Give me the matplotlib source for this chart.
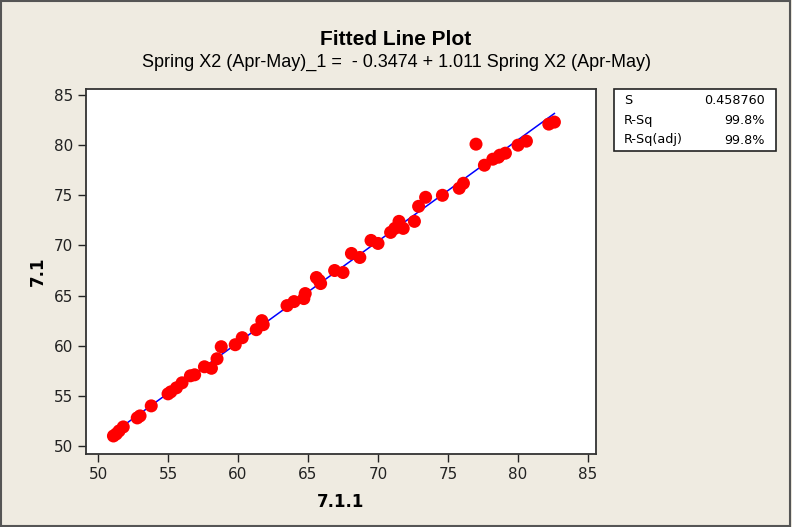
import matplotlib.pyplot as plt
from matplotlib.patches import Rectangle
import numpy as np

x_vals = [51.1, 51.3, 51.5, 51.8, 52.8, 53.0, 53.8, 55.0, 55.2, 55.6, 56.0, 56.6,
          56.9, 57.6, 58.1, 58.5, 58.8, 59.8, 60.3, 61.3, 61.7, 61.8, 63.5, 64.0,
          64.7, 64.8, 65.6, 65.8, 65.9, 66.9, 67.5, 68.1, 68.7, 69.5, 70.0, 70.9,
          71.2, 71.5, 71.8, 72.6, 72.9, 73.4, 74.6, 75.8, 76.1, 77.0, 77.6, 78.2,
          78.6, 78.7, 79.1, 80.0, 80.6, 82.2, 82.6]
y_vals = [51.0, 51.2, 51.5, 51.9, 52.8, 53.0, 54.0, 55.2, 55.4, 55.8, 56.3, 57.0,
          57.1, 57.9, 57.75, 58.7, 59.9, 60.1, 60.8, 61.6, 62.5, 62.1, 64.0, 64.4,
          64.7, 65.2, 66.8, 66.5, 66.2, 67.5, 67.3, 69.2, 68.8, 70.5, 70.2, 71.3,
          71.7, 72.4, 71.7, 72.4, 73.9, 74.8, 75.0, 75.7, 76.2, 80.1, 78.0, 78.6,
          78.8, 79.0, 79.2, 80.0, 80.4, 82.1, 82.3]

intercept = -0.3474
slope = 1.011
stat_names = ["S", "R-Sq", "R-Sq(adj)"]
stat_values = ["0.458760", "99.8%", "99.8%"]
ticks = [50, 55, 60, 65, 70, 75, 80, 85]

bg = '#efebe1'
fig = plt.figure(figsize=(7.92, 5.27), dpi=100, facecolor=bg)
ax = fig.add_axes([0.1086, 0.1385, 0.6439, 0.6926])
ax.set_facecolor('white')

xs = np.array([min(x_vals), max(x_vals)])
ax.plot(xs, intercept + slope * xs, color='blue', lw=1.1, zorder=2)
ax.scatter(x_vals, y_vals, s=88, color='#ff0000', edgecolors='none', zorder=3)

ax.set_xlim(49.14, 85.57)
ax.set_ylim(49.2, 85.6)
ax.set_xticks(ticks)
ax.set_yticks(ticks)
ax.tick_params(direction='out', length=6, width=1, labelsize=11, colors='#222222')
for sp in ax.spines.values():
    sp.set_linewidth(1.3)
    sp.set_color('#333333')

ax.set_xlabel('7.1.1', fontsize=12, fontweight='bold', labelpad=8)
ax.set_ylabel('7.1', fontsize=12, fontweight='bold', labelpad=5)

fig.text(0.5, 0.925, 'Fitted Line Plot', ha='center', va='center',
         fontsize=15, fontweight='bold', family='Liberation Sans')
fig.text(0.5, 0.882, 'Spring X2 (Apr-May)_1 =  - 0.3474 + 1.011 Spring X2 (Apr-May)',
         ha='center', va='center', fontsize=13, family='Liberation Sans')

# stats box
fig.add_artist(Rectangle((614 / 792, 1 - 151 / 527), 162 / 792, 62 / 527,
                         transform=fig.transFigure, facecolor='white',
                         edgecolor='#222222', lw=1.2))
for i, (n, v) in enumerate(zip(stat_names, stat_values)):
    yy = 1 - (101 + i * 19.5) / 527
    fig.text(624 / 792, yy, n, ha='left', va='center', fontsize=9.2)
    fig.text(765 / 792, yy, v, ha='right', va='center', fontsize=9.2)

# outer border
fig.add_artist(Rectangle((0.001, 0.002), 0.996, 0.996, transform=fig.transFigure,
                         fill=False, edgecolor='#555555', lw=1.5))

fig.savefig('out.png', dpi=100, facecolor=bg)
